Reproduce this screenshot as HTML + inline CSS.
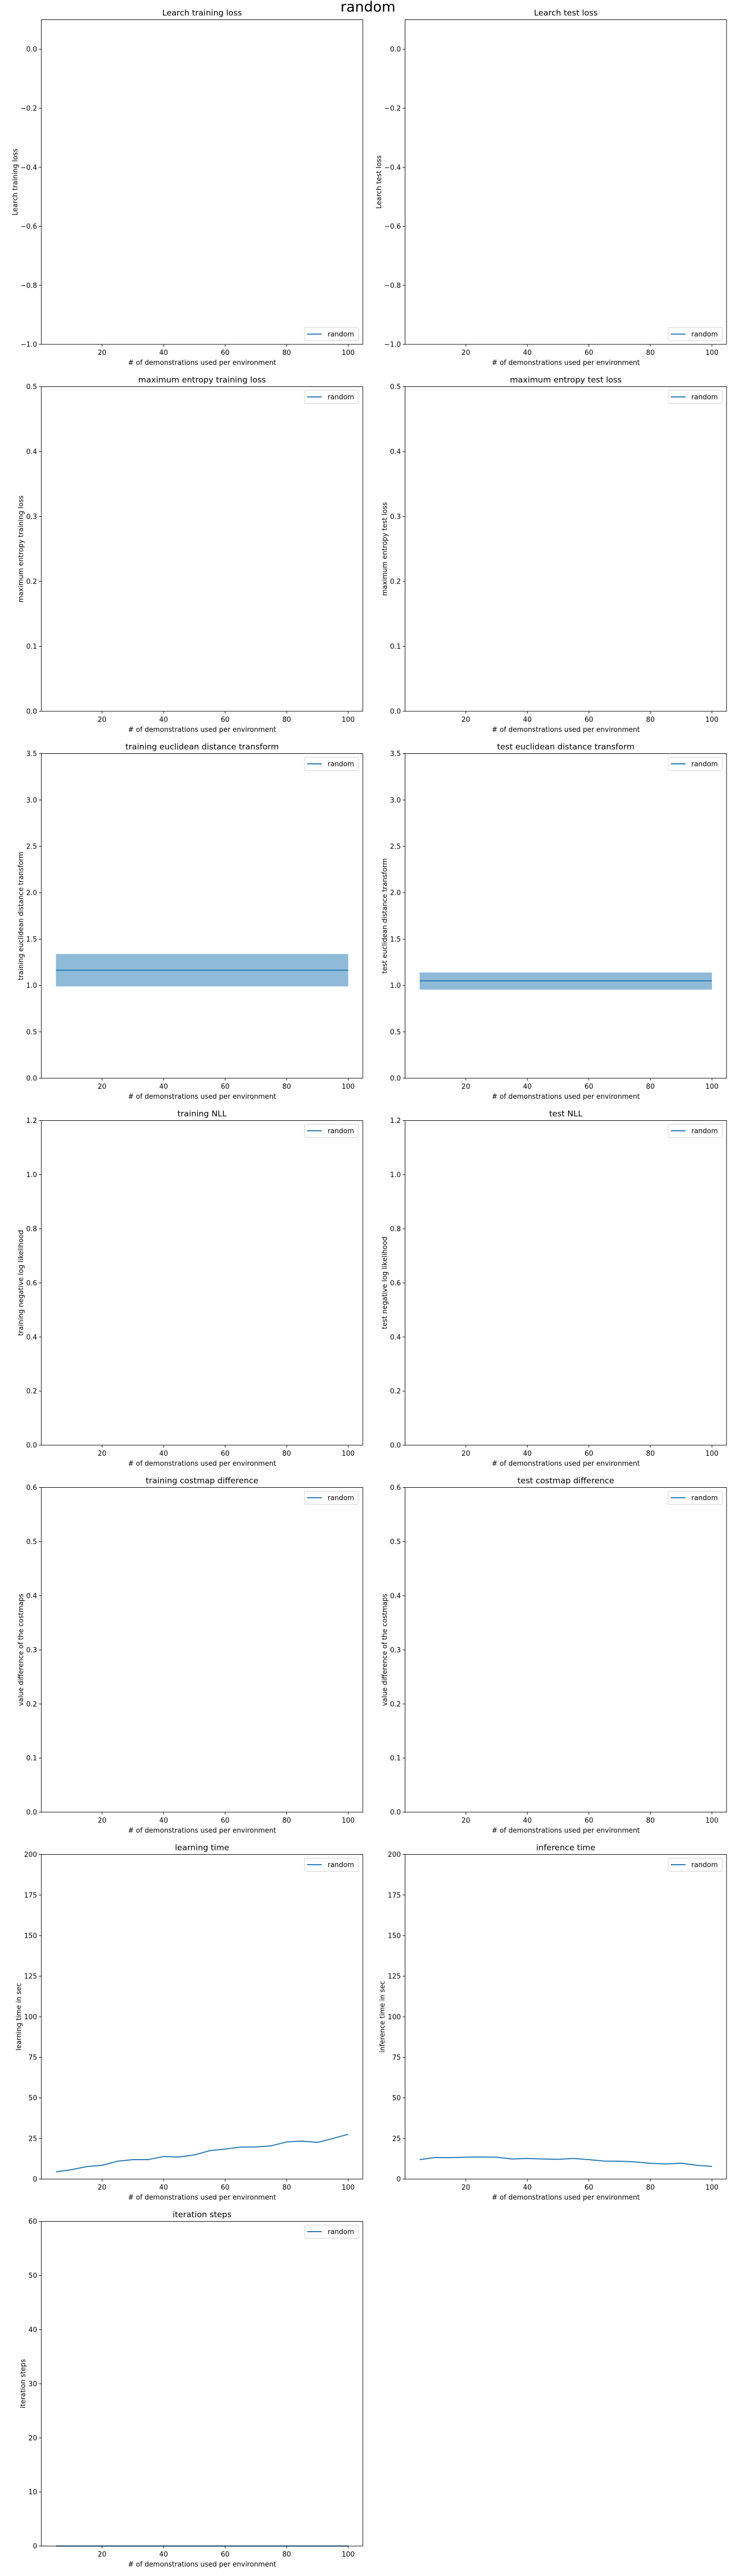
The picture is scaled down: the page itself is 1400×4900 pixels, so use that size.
<!DOCTYPE html>
<html><head><meta charset="utf-8">
<style>
html,body{margin:0;padding:0;background:#fff;}
svg{display:block;}
text{font-family:"DejaVu Sans","Liberation Sans",sans-serif;fill:#000;}
</style></head>
<body>
<svg id="fig" width="1400" height="4900" viewBox="0 0 1400 4900" xmlns="http://www.w3.org/2000/svg">
<rect x="0" y="0" width="1400" height="4900" fill="#fff"/>
<text x="700" y="22" font-size="27" text-anchor="middle">random</text>
</svg>
<script>
// ---- data ----
const demoCounts = [5,10,15,20,25,30,35,40,45,50,55,60,65,70,75,80,85,90,95,100];
const learningTime = [4.5,5.8,7.7,8.5,11,12,12,13.9,13.6,14.9,17.5,18.5,19.7,19.8,20.5,22.9,23.4,22.6,25,27.6];
const inferenceTime = [12,13.3,13.2,13.5,13.6,13.5,12.4,12.7,12.4,12.2,12.7,12,11.1,11,10.6,9.7,9.3,9.8,8.5,7.8];
const iterationSteps = [0,0,0,0,0,0,0,0,0,0,0,0,0,0,0,0,0,0,0,0];
const trainEdtMean = [1.165,1.165];
const trainEdtLow = [0.99,0.99];
const trainEdtHigh = [1.34,1.34];
const testEdtMean = [1.05,1.05];
const testEdtLow = [0.955,0.955];
const testEdtHigh = [1.14,1.14];
const edtX = [5,100];
const xTicks = [20,40,60,80,100];
const ticksLearch = [-1.0,-0.8,-0.6,-0.4,-0.2,0.0];
const ticksMaxEnt = [0.0,0.1,0.2,0.3,0.4,0.5];
const ticksEdt = [0.0,0.5,1.0,1.5,2.0,2.5,3.0,3.5];
const ticksNll = [0.0,0.2,0.4,0.6,0.8,1.0,1.2];
const ticksCost = [0.0,0.1,0.2,0.3,0.4,0.5,0.6];
const ticksTime = [0,25,50,75,100,125,150,175,200];
const ticksIter = [0,10,20,30,40,50,60];

const NS = "http://www.w3.org/2000/svg";
const svg = document.getElementById('fig');
const BLUE = "#1f77b4";
function mk(tag, attrs, parent){
  const e = document.createElementNS(NS, tag);
  for (const k in attrs) e.setAttribute(k, attrs[k]);
  (parent||svg).appendChild(e);
  return e;
}
const XMIN = 0.25, XMAX = 104.75;
const colLeft = [78.6, 770.5];
const AXW = 611.5, AXH = 617.5, TOP0 = 37.5, PITCH = 698;

function panel(o){
  const L = colLeft[o.col], T = TOP0 + PITCH*o.row, R = L + AXW, B = T + AXH;
  const g = mk('g', {});
  
  
  const sx = v => L + (v - XMIN)/(XMAX - XMIN)*AXW;
  const sy = v => B - (v - o.ymin)/(o.ymax - o.ymin)*AXH;
  // bands
  if (o.band){
    const b = o.band;
    let d = '';
    b.x.forEach((xv,i)=>{ d += (i?'L':'M') + sx(xv) + ' ' + sy(b.hi[i]); });
    for (let i=b.x.length-1;i>=0;i--) d += 'L' + sx(b.x[i]) + ' ' + sy(b.lo[i]);
    d += 'Z';
    const p = mk('path', {d:d, fill:BLUE, 'fill-opacity':0.5, stroke:'none'}, g);
    
    
  }
  if (o.line){
    const pts = o.line.x.map((xv,i)=> sx(xv).toFixed(2)+','+sy(o.line.y[i]).toFixed(2)).join(' ');
    const pl = mk('polyline', {points:pts, fill:'none', stroke:BLUE, 'stroke-width':2, 'stroke-linejoin':'round'}, g);
    
    
  }
  // frame
  const fr = mk('rect', {x:L, y:T, width:AXW, height:AXH, fill:'none', stroke:'#000', 'stroke-width':1}, g);
  
  
  // x ticks
  xTicks.forEach(t=>{
    const x = sx(t);
    mk('line', {x1:x, x2:x, y1:B, y2:B+4.5, stroke:'#000', 'stroke-width':1}, g);
    const tx = mk('text', {x:x, y:B+20, 'font-size':13, 'text-anchor':'middle'}, g);
    tx.textContent = String(t);
    
    
  });
  // y ticks
  let maxW = 0;
  o.yticks.forEach(t=>{
    const y = sy(t);
    mk('line', {x1:L-4.5, x2:L, y1:y, y2:y, stroke:'#000', 'stroke-width':1}, g);
    const lab = (o.dec>0 ? t.toFixed(o.dec) : String(t)).replace('-', '\u2212');
    const tx = mk('text', {x:L-8, y:y+4.6, 'font-size':13, 'text-anchor':'end'}, g);
    tx.textContent = lab;
    
    
    try { maxW = Math.max(maxW, tx.getComputedTextLength()); } catch(e){}
  });
  // title
  const ti = mk('text', {x:(L+R)/2, y:T-8, 'font-size':15.5, 'text-anchor':'middle'}, g);
  ti.textContent = o.title;
  
  
  // x label
  const xl = mk('text', {x:(L+R)/2, y:B+39, 'font-size':13, 'text-anchor':'middle'}, g);
  xl.textContent = '# of demonstrations used per environment';
  
  
  // y label
  const yx = L - 8 - maxW - 6;
  const yl = mk('text', {x:yx, y:(T+B)/2, 'font-size':13, 'text-anchor':'middle', transform:'rotate(-90 '+yx+' '+((T+B)/2)+')'}, g);
  yl.textContent = o.ylabel;
  
  
  // legend
  const lw = 103, lh = 25;
  const lx = R - 8 - lw;
  const ly = o.legendBottom ? B - 7 - lh : T + 7;
  const lg = mk('g', {}, g);
  
  
  mk('rect', {x:lx, y:ly, width:lw, height:lh, rx:2.5, fill:'#fff', 'fill-opacity':0.8, stroke:'#d0d0d0', 'stroke-width':1}, lg);
  mk('line', {x1:lx+5, x2:lx+33, y1:ly+lh/2, y2:ly+lh/2, stroke:BLUE, 'stroke-width':2}, lg);
  const lt = mk('text', {x:lx+44, y:ly+lh/2+4.6, 'font-size':13}, lg);
  lt.textContent = 'random';
  
  
}

panel({name:'learch-training-loss-chart', row:0,col:0,title:'Learch training loss',ylabel:'Learch training loss',ymin:-1,ymax:0.1,yticks:ticksLearch,dec:1,legendBottom:true});
panel({name:'learch-test-loss-chart', row:0,col:1,title:'Learch test loss',ylabel:'Learch test loss',ymin:-1,ymax:0.1,yticks:ticksLearch,dec:1,legendBottom:true});
panel({name:'maxent-training-loss-chart', row:1,col:0,title:'maximum entropy training loss',ylabel:'maximum entropy training loss',ymin:0,ymax:0.5,yticks:ticksMaxEnt,dec:1});
panel({name:'maxent-test-loss-chart', row:1,col:1,title:'maximum entropy test loss',ylabel:'maximum entropy test loss',ymin:0,ymax:0.5,yticks:ticksMaxEnt,dec:1});
panel({name:'training-edt-chart', row:2,col:0,title:'training euclidean distance transform',ylabel:'training euclidean distance transform',ymin:0,ymax:3.5,yticks:ticksEdt,dec:1,
  band:{x:edtX,lo:trainEdtLow,hi:trainEdtHigh}, line:{x:edtX,y:trainEdtMean}});
panel({name:'test-edt-chart', row:2,col:1,title:'test euclidean distance transform',ylabel:'test euclidean distance transform',ymin:0,ymax:3.5,yticks:ticksEdt,dec:1,
  band:{x:edtX,lo:testEdtLow,hi:testEdtHigh}, line:{x:edtX,y:testEdtMean}});
panel({name:'training-nll-chart', row:3,col:0,title:'training NLL',ylabel:'training negative log likelihood',ymin:0,ymax:1.2,yticks:ticksNll,dec:1});
panel({name:'test-nll-chart', row:3,col:1,title:'test NLL',ylabel:'test negative log likelihood',ymin:0,ymax:1.2,yticks:ticksNll,dec:1});
panel({name:'training-costmap-diff-chart', row:4,col:0,title:'training costmap difference',ylabel:'value difference of the costmaps',ymin:0,ymax:0.6,yticks:ticksCost,dec:1});
panel({name:'test-costmap-diff-chart', row:4,col:1,title:'test costmap difference',ylabel:'value difference of the costmaps',ymin:0,ymax:0.6,yticks:ticksCost,dec:1});
panel({name:'learning-time-chart', row:5,col:0,title:'learning time',ylabel:'learning time in sec',ymin:0,ymax:200,yticks:ticksTime,dec:0,
  line:{x:demoCounts,y:learningTime}});
panel({name:'inference-time-chart', row:5,col:1,title:'inference time',ylabel:'inference time in sec',ymin:0,ymax:200,yticks:ticksTime,dec:0,
  line:{x:demoCounts,y:inferenceTime}});
panel({name:'iteration-steps-chart', row:6,col:0,title:'iteration steps',ylabel:'iteration steps',ymin:0,ymax:60,yticks:ticksIter,dec:0,
  line:{x:demoCounts,y:iterationSteps}});
</script>
</body></html>
